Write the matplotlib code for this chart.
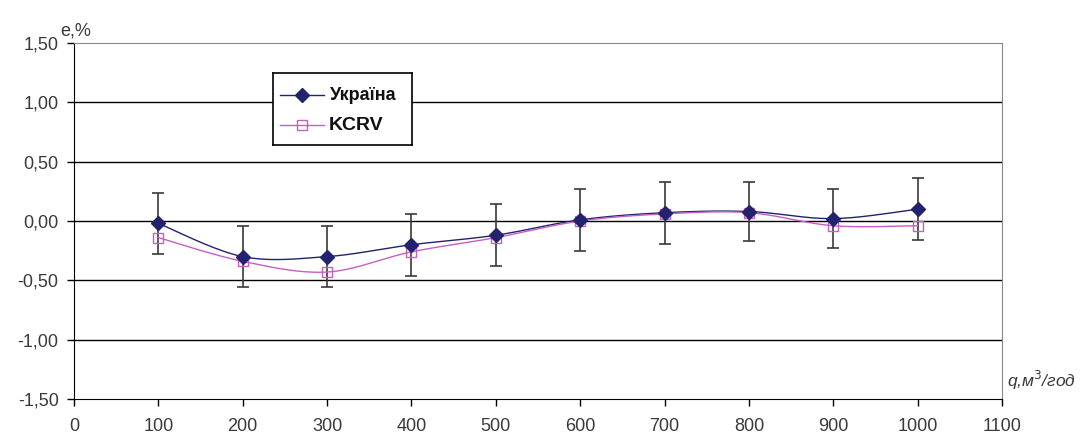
import numpy as np
import matplotlib.pyplot as plt
from matplotlib.ticker import FuncFormatter

plt.rcParams['font.family'] = ['Liberation Sans', 'DejaVu Sans']

# -------------------------------
# Data
# -------------------------------
q = [100, 200, 300, 400, 500, 600, 700, 800, 900, 1000]
ukraine = [-0.02, -0.30, -0.30, -0.20, -0.12, 0.01, 0.07, 0.08, 0.02, 0.10]
kcrv = [-0.14, -0.34, -0.43, -0.26, -0.14, 0.00, 0.06, 0.07, -0.04, -0.04]
u_err = [0.26, 0.26, 0.26, 0.26, 0.26, 0.26, 0.26, 0.25, 0.25, 0.26]

y_ticks = [-1.5, -1.0, -0.5, 0.0, 0.5, 1.0, 1.5]
x_ticks = list(range(0, 1101, 100))


def smooth(x, y, n=20):
    # Catmull-Rom style smoothing, like Excel "smoothed line"
    x = np.asarray(x, float)
    y = np.asarray(y, float)
    px = np.concatenate([[x[0]], x, [x[-1]]])
    py = np.concatenate([[y[0]], y, [y[-1]]])
    xs, ys = [], []
    t = np.linspace(0, 1, n)
    for i in range(1, len(px) - 2):
        p0, p1, p2, p3 = (np.array([px[j], py[j]]) for j in (i - 1, i, i + 1, i + 2))
        c1 = p1 + (p2 - p0) / 6
        c2 = p2 - (p3 - p1) / 6
        b = ((1 - t) ** 3)[:, None] * p1 + (3 * (1 - t) ** 2 * t)[:, None] * c1 \
            + (3 * (1 - t) * t ** 2)[:, None] * c2 + (t ** 3)[:, None] * p2
        xs.extend(b[:, 0])
        ys.extend(b[:, 1])
    return xs, ys


navy = '#22226e'
pink = '#c65fc0'
txt = '#3a3a3a'

fig = plt.figure(figsize=(10.83, 4.36), dpi=100)
ax = fig.add_axes([74 / 1083, 1 - 399 / 436, 928 / 1083, 356 / 436])

for yv in [-1.0, -0.5, 0.0, 0.5, 1.0]:
    ax.axhline(yv, color='black', lw=1.0, zorder=1)

ax.errorbar(q, ukraine, yerr=u_err, fmt='none', ecolor='#3a3a3a', elinewidth=1.2,
            capsize=4.5, capthick=1.2, zorder=2)

sx, sy = smooth(q, ukraine)
ax.plot(sx, sy, color=navy, lw=1.0, zorder=3)
ax.plot(q, ukraine, ls='none', marker='D', ms=7, color=navy, zorder=5)
kx, ky = smooth(q, kcrv)
ax.plot(kx, ky, color=pink, lw=1.0, zorder=3)
ax.plot(q, kcrv, ls='none', marker='s', ms=6.5, mfc='none', mec=pink, mew=1.0, zorder=4)

ax.set_xlim(0, 1100)
ax.set_ylim(-1.5, 1.5)
ax.set_xticks(x_ticks)
ax.set_yticks(y_ticks)
ax.yaxis.set_major_formatter(FuncFormatter(lambda v, p: f'{v:.2f}'.replace('.', ',')))
ax.tick_params(axis='both', direction='out', length=5, width=1, labelsize=13,
               labelcolor=txt, pad=6)
ax.tick_params(axis='x', pad=9)

for s in ['top', 'right']:
    ax.spines[s].set_color('#888888')
for s in ['left', 'bottom']:
    ax.spines[s].set_color('black')

ax.text(-0.015, 1.01, 'e,%', transform=ax.transAxes, fontsize=13, color=txt,
        ha='left', va='bottom')
ax.text(1.005, 0.02, 'q,м$^3$/год', transform=ax.transAxes, fontsize=12.5, color=txt,
        style='italic', ha='left', va='bottom')

# legend box
lax = fig.add_axes([273 / 1083, 1 - 145 / 436, 139 / 1083, 72 / 436])
lax.set_xlim(0, 139)
lax.set_ylim(72, 0)
lax.set_xticks([])
lax.set_yticks([])
for s in lax.spines.values():
    s.set_color('black')
    s.set_linewidth(1.2)
lax.plot([7, 51], [22, 22], color=navy, lw=1.0)
lax.plot([29], [22], marker='D', ms=7, color=navy)
lax.plot([7, 51], [52, 52], color=pink, lw=1.0)
lax.plot([29], [52], marker='s', ms=6.5, mfc='none', mec=pink)
lax.text(57, 22, 'Україна', fontsize=13, fontweight='bold', va='center', color='#111111')
lax.text(56, 52, 'KCRV', fontsize=14, fontweight='bold', va='center', color='#111111')

fig.savefig('out.png', dpi=100)
